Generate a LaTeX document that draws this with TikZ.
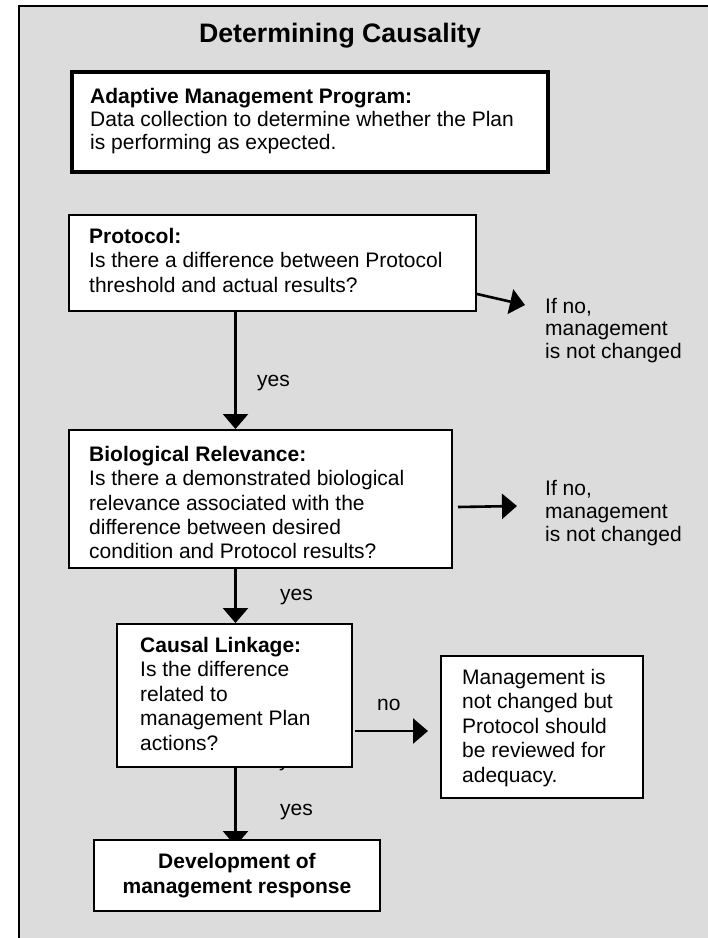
\documentclass[tikz,border=0pt]{standalone}
\usepackage{fontspec}
\setmainfont{Liberation Sans}
\usetikzlibrary{arrows.meta}
\definecolor{bggray}{RGB}{220,220,220}
\newcommand\bodysize{\fontsize{21pt}{24.3pt}\selectfont}
\newcommand\titlesize{\fontsize{26.7pt}{30pt}\selectfont}
\pgfdeclarelayer{bglayer}
\pgfdeclarelayer{midlayer}
\pgfsetlayers{bglayer,midlayer,main}
\begin{document}
\begin{tikzpicture}[x=1pt,y=-1pt,
  box/.style={draw=black, line width=2pt, fill=white, inner sep=0pt, anchor=north west},
  thickbox/.style={box, line width=4pt},
  txt/.style={inner sep=0pt, anchor=north west, align=left, font=\bodysize},
  lbl/.style={inner sep=0pt, anchor=base west, font=\bodysize},
  arr/.style={line width=2.6pt, -{Triangle[length=15pt,width=25pt]}}]
\useasboundingbox (0,0) rectangle (708,938);
\begin{pgfonlayer}{bglayer}
  \fill[white] (0,0) rectangle (708,938);
  \fill[bggray] (19,6) rectangle (708,938);
  \draw[line width=2pt] (19,938) -- (19,6) -- (708,6);
\end{pgfonlayer}

\node[anchor=base, inner sep=0pt, font=\titlesize\bfseries] (title) at (340,42) {Determining Causality};

% boxes
\node[thickbox, minimum width=476pt, minimum height=100pt] (A) at (70,70) {};
\node[box, minimum width=407pt, minimum height=96pt] (P) at (68,214) {};
\node[box, minimum width=383pt, minimum height=138pt] (B) at (68,429) {};
\node[box, minimum width=235pt, minimum height=143pt] (C) at (116,623) {};
\node[box, minimum width=202pt, minimum height=142pt] (D) at (440,655) {};
\node[box, minimum width=286pt, minimum height=71pt, align=center, font=\bodysize\bfseries] (E) at (93,839) {Development of\\management response};

% box texts
\node[txt, font={\fontsize{21pt}{23pt}\selectfont}] (At) at (90,88) {\textbf{Adaptive Management Program:}\\Data collection to determine whether the Plan\\is performing as expected.};
\node[txt] (Pt) at (89,228) {\textbf{Protocol:}\\Is there a difference between Protocol\\threshold and actual results?};
\node[txt] (Bt) at (89,446) {\textbf{Biological Relevance:}\\Is there a demonstrated biological\\relevance associated with the\\difference between desired\\condition and Protocol results?};
\node[txt, font={\fontsize{21pt}{24.5pt}\selectfont}] (Ct) at (140,637) {\textbf{Causal Linkage:}\\Is the difference\\related to\\management Plan\\actions?};
\node[txt, font={\fontsize{21pt}{24.5pt}\selectfont}] (Dt) at (462,669) {Management is\\not changed but\\Protocol should\\be reviewed for\\adequacy.};

% side outcomes
\node[txt, font={\fontsize{21pt}{22.5pt}\selectfont}] (N1) at (545,298) {If no,\\management\\is not changed};
\node[txt, font={\fontsize{21pt}{23pt}\selectfont}] (N2) at (545,480) {If no,\\management\\is not changed};

% edge labels
\node[lbl] (y1) at (257,386) {yes};
\node[lbl] (y2) at (280,600) {yes};
\node[lbl] (y3) at (280,815) {yes};
\node[lbl] (no1) at (377,710) {no};

% helper coordinates
\coordinate (xv) at (235.5,0);
\coordinate (t1) at (525,305);
\coordinate (n2) at (517,506);
\coordinate (ny) at (0,731);
\coordinate (p1) at ([yshift=18pt]P.south east);
\coordinate (b1) at ([xshift=5pt,yshift=-8pt]B.east);
\coordinate (c1) at (C.east |- ny);
\coordinate (d1) at (D.west |- ny);
\coordinate (e1) at (E.north -| xv);

\begin{pgfonlayer}{midlayer}
  \node[lbl] (hid) at (279,766) {yes};
  \draw[arr] (p1) -- (t1);
  \draw[arr] (b1) -- (n2);
  \draw[arr] ([xshift=2pt]c1) -- ([xshift=-12pt]d1);
  \draw[arr] (P.south -| xv) -- (B.north -| xv);
  \draw[arr] (B.south -| xv) -- (C.north -| xv);
  \draw[arr] (C.south -| xv) -- ([yshift=-7pt]e1);
\end{pgfonlayer}
\end{tikzpicture}
\end{document}
